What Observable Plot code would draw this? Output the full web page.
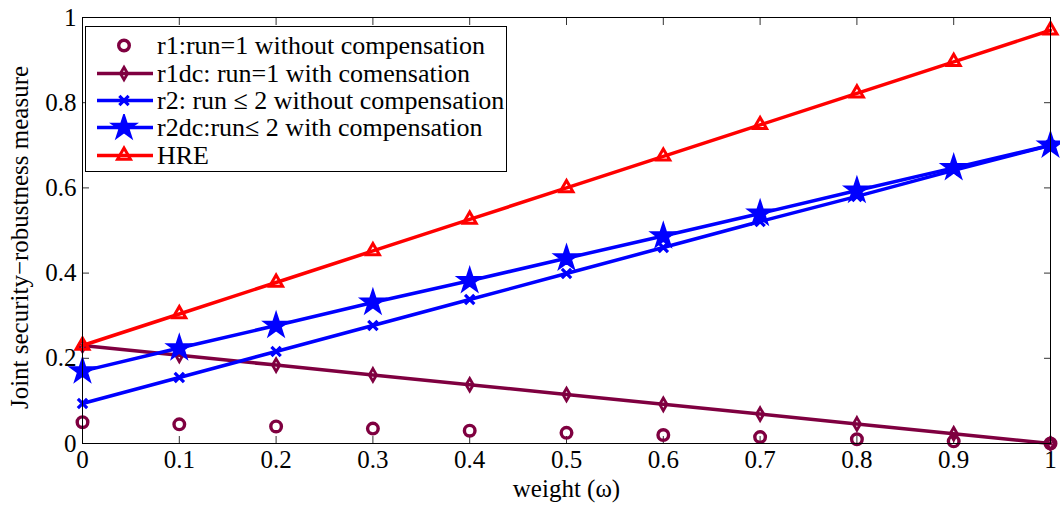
<!DOCTYPE html>
<html>
<head>
<meta charset="utf-8">
<script src="https://cdn.jsdelivr.net/npm/d3@7"></script>
<script src="https://cdn.jsdelivr.net/npm/@observablehq/plot@0.6"></script>
<style>
  html, body { margin: 0; padding: 0; background: #fff; }
  #wrap { position: relative; width: 1060px; height: 506px; overflow: hidden; font-family: "Liberation Serif", "Times New Roman", serif; }
  #legend { position: absolute; left: 85px; top: 26px; width: 422px; height: 146px; border: 1px solid #000; background: #fff; box-sizing: border-box; padding-top: 5px; }
  .row { display: flex; align-items: center; height: 27.4px; }
  .row svg { flex: none; }
  .row span { font-size: 26px; line-height: 27px; color: #000; white-space: nowrap; margin-left: 1px; }
</style>
</head>
<body>
<div id="wrap"></div>
<script>
// weight ω on the x axis
const weights = [0, 0.1, 0.2, 0.3, 0.4, 0.5, 0.6, 0.7, 0.8, 0.9, 1];
// joint security–robustness measure per strategy
const r1   = [0.050, 0.045, 0.040, 0.035, 0.030, 0.025, 0.020, 0.015, 0.010, 0.005, 0.000];
const r1dc = [0.230, 0.207, 0.184, 0.161, 0.138, 0.115, 0.092, 0.069, 0.046, 0.023, 0.000];
const r2   = [0.094, 0.155, 0.216, 0.277, 0.338, 0.399, 0.460, 0.521, 0.580, 0.641, 0.700];
const r2dc = [0.170, 0.224, 0.277, 0.331, 0.382, 0.435, 0.487, 0.540, 0.594, 0.647, 0.700];
const hre  = [0.230, 0.304, 0.378, 0.452, 0.526, 0.600, 0.674, 0.748, 0.822, 0.896, 0.970];

const xTicks = [0, 0.1, 0.2, 0.3, 0.4, 0.5, 0.6, 0.7, 0.8, 0.9, 1];
const yTicks = [0, 0.2, 0.4, 0.6, 0.8, 1];
const xLabel = "weight (ω)";
const yLabel = "Joint security−robustness measure";

const seriesNames = [
  "r1:run=1 without compensation",
  "r1dc: run=1 with comensation",
  "r2: run ≤ 2 without compensation",
  "r2dc:run≤ 2 with compensation",
  "HRE"
];

const MAROON = "#7f0040", BLUE = "#0000ff", RED = "#ff0000";

// style of each series: colour, marker, marker radius and stroke, whether a line joins the points, marker fill
const styles = [
  {key: "r1",   values: r1,   color: MAROON, symbol: "circle",   r: 5.3, sw: 3.4, line: false, fill: "none"},
  {key: "r1dc", values: r1dc, color: MAROON, symbol: "diamond",  r: 3.8, sw: 2.8, line: true,  fill: "none"},
  {key: "r2",   values: r2,   color: BLUE,   symbol: "times",    r: 4.3, sw: 3.2, line: true,  fill: "none"},
  {key: "r2dc", values: r2dc, color: BLUE,   symbol: "star",     r: 7.0, sw: 2.5, line: true,  fill: BLUE},
  {key: "hre",  values: hre,  color: RED,    symbol: "triangle", r: 4.8, sw: 3.0, line: true,  fill: "none"}
];

const tableFor = (s) => weights.map((w, i) => ({w, v: s.values[i]}));

const marks = [];
for (const s of styles) {
  const data = tableFor(s);
  if (s.line) marks.push(Plot.line(data, {x: "w", y: "v", stroke: s.color, strokeWidth: 3.5}));
  marks.push(Plot.dot(data, {x: "w", y: "v", symbol: s.symbol, r: s.r, stroke: s.color, strokeWidth: s.sw, fill: s.fill}));
}

const chart = Plot.plot({
  width: 1060,
  height: 506,
  marginLeft: 82,
  marginRight: 10,
  marginTop: 17,
  marginBottom: 63,
  style: {fontFamily: "Liberation Serif, Times New Roman, serif", background: "#fff", color: "#000"},
  x: {domain: [0, 1], label: null},
  y: {domain: [0, 1], label: null},
  marks: [
    // inward tick marks on all four sides
    Plot.axisX(xTicks, {anchor: "bottom", tickSize: -7, text: null, label: null, stroke: "#333"}),
    Plot.axisX(xTicks, {anchor: "top", tickSize: -7, text: null, label: null, stroke: "#333"}),
    Plot.axisY(yTicks, {anchor: "left", tickSize: -7, text: null, label: null, stroke: "#333"}),
    Plot.axisY(yTicks, {anchor: "right", tickSize: -7, text: null, label: null, stroke: "#333"}),
    // tick labels
    Plot.axisX(xTicks, {anchor: "bottom", tickSize: 0, tickPadding: 7, fontSize: 25, label: null, tickFormat: d3.format("")}),
    Plot.axisY(yTicks, {anchor: "left", tickSize: 0, tickPadding: 6, fontSize: 25, label: null, tickFormat: d3.format("")}),
    // axis titles
    Plot.text([xLabel], {frameAnchor: "bottom", textAnchor: "middle", lineAnchor: "top", dy: 36, fontSize: 25}),
    Plot.text([yLabel], {frameAnchor: "left", textAnchor: "middle", lineAnchor: "middle", rotate: -90, dx: -63, dy: 7, fontSize: 25}),
    ...marks,
    Plot.frame({stroke: "#000", strokeWidth: 1})
  ]
});

const wrap = document.getElementById("wrap");
wrap.appendChild(chart);

// legend box in the upper-left corner of the axes
const symbols = {circle: d3.symbolCircle, diamond: d3.symbolDiamond, times: d3.symbolTimes, star: d3.symbolStar, triangle: d3.symbolTriangle};
const legend = document.createElement("div");
legend.id = "legend";
styles.forEach((s, i) => {
  const row = document.createElement("div");
  row.className = "row";
  const sw = d3.create("svg").attr("width", 70).attr("height", 27);
  if (s.line) {
    sw.append("line").attr("x1", 11).attr("x2", 67).attr("y1", 13.5).attr("y2", 13.5)
      .attr("stroke", s.color).attr("stroke-width", 3.5);
  }
  sw.append("path").attr("transform", "translate(38,13.5)")
    .attr("d", d3.symbol(symbols[s.symbol], Math.PI * s.r * s.r)())
    .attr("stroke", s.color).attr("stroke-width", s.sw).attr("fill", s.fill);
  row.appendChild(sw.node());
  const t = document.createElement("span");
  t.textContent = seriesNames[i];
  row.appendChild(t);
  legend.appendChild(row);
});
wrap.appendChild(legend);
</script>
</body>
</html>
